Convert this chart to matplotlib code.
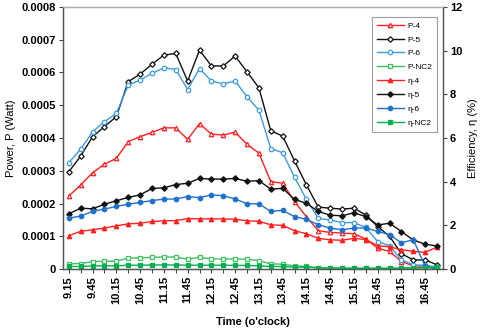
import matplotlib.pyplot as plt
import numpy as np

plt.rcParams['font.family'] = ['Liberation Sans', 'DejaVu Sans']

# hora de cada leitura (a cada 15 min)
times = ['9.15', '9.30', '9.45', '10.00', '10.15', '10.30', '10.45', '11.00',
         '11.15', '11.30', '11.45', '12.00', '12.15', '12.30', '12.45', '13.00',
         '13.15', '13.30', '13.45', '14.00', '14.15', '14.30', '14.45', '15.00',
         '15.15', '15.30', '15.45', '16.00', '16.15', '16.30', '16.45', '17.00']

# potencia (W)
p4 = [0.000223, 0.000257, 0.000294, 0.000320, 0.000338, 0.000389, 0.000404, 0.000417,
      0.000431, 0.000431, 0.000396, 0.000444, 0.000412, 0.000409, 0.000418, 0.000381,
      0.000354, 0.000267, 0.000262, 0.000206, 0.000160, 0.000117, 0.000112, 0.000110,
      0.000108, 0.000092, 0.000064, 0.000054, 0.000023, 0.000010, 0.000009, 0.000006]
p5 = [0.000297, 0.000345, 0.000404, 0.000435, 0.000465, 0.000572, 0.000595, 0.000625,
      0.000653, 0.000658, 0.000574, 0.000668, 0.000620, 0.000620, 0.000650, 0.000602,
      0.000553, 0.000422, 0.000406, 0.000330, 0.000257, 0.000189, 0.000186, 0.000183,
      0.000186, 0.000165, 0.000130, 0.000100, 0.000047, 0.000028, 0.000028, 0.000013]
p6 = [0.000325, 0.000366, 0.000419, 0.000450, 0.000475, 0.000561, 0.000577, 0.000597,
      0.000614, 0.000609, 0.000548, 0.000612, 0.000574, 0.000565, 0.000574, 0.000526,
      0.000485, 0.000368, 0.000355, 0.000280, 0.000213, 0.000155, 0.000150, 0.000142,
      0.000142, 0.000127, 0.000084, 0.000071, 0.000028, 0.000013, 0.000012, 0.000006]
pnc2 = [0.000016, 0.000017, 0.000023, 0.000024, 0.000024, 0.000034, 0.000034, 0.000036,
        0.000037, 0.000037, 0.000030, 0.000036, 0.000031, 0.000031, 0.000031, 0.000030,
        0.000026, 0.000016, 0.000015, 0.000010, 0.000008, 0.000004, 0.000003, 0.000003,
        0.000002, 0.000002, 0.000002, 0.000002, 0.000002, 0.000003, 0.000004, 0.000005]

# eficiencia (%)
e4 = [1.53, 1.73, 1.80, 1.88, 1.98, 2.07, 2.10, 2.18, 2.21, 2.22, 2.31, 2.30, 2.30, 2.30,
      2.28, 2.21, 2.19, 2.03, 2.00, 1.76, 1.62, 1.41, 1.34, 1.32, 1.41, 1.35, 1.07, 1.02,
      0.89, 0.81, 0.77, 1.01]
e5 = [2.53, 2.79, 2.76, 2.97, 3.13, 3.28, 3.40, 3.69, 3.72, 3.87, 3.93, 4.15, 4.12, 4.12,
      4.15, 4.02, 4.05, 3.66, 3.70, 3.19, 3.01, 2.64, 2.47, 2.44, 2.58, 2.40, 2.02, 2.10,
      1.72, 1.33, 1.14, 1.06]
e6 = [2.33, 2.43, 2.64, 2.75, 2.87, 2.97, 3.05, 3.14, 3.20, 3.21, 3.32, 3.27, 3.40, 3.36,
      3.21, 2.99, 2.99, 2.64, 2.69, 2.40, 2.28, 2.03, 1.88, 1.80, 1.88, 1.88, 1.73, 1.58,
      1.20, 1.35, 0.12, 0.00]
enc2 = [0.12, 0.12, 0.15, 0.15, 0.15, 0.18, 0.18, 0.19, 0.19, 0.19, 0.18, 0.18, 0.18, 0.18,
        0.17, 0.17, 0.15, 0.12, 0.12, 0.09, 0.09, 0.06, 0.05, 0.04, 0.04, 0.04, 0.04, 0.04,
        0.05, 0.06, 0.07, 0.09]

x = np.arange(len(times))

fig = plt.figure(figsize=(4.8, 3.29), dpi=100)
ax = fig.add_axes([0.131, 0.182, 0.792, 0.797])
ax2 = ax.twinx()

red, black, blue, blue2 = '#ff2020', '#111111', '#3d9be0', '#1f72cc'
green, green2 = '#40c060', '#00b04f'
kw = dict(lw=1, ms=3.2, mew=0.9)

h = []
h += ax.plot(x, p4, '-^', color=red, mfc='white', label='P-4', **kw)
h += ax.plot(x, p5, '-D', color=black, mfc='white', label='P-5', ms=2.8, lw=1, mew=0.9)
h += ax.plot(x, p6, '-o', color=blue, mfc='white', label='P-6', **kw)
h += ax.plot(x, pnc2, '-s', color=green, mfc='white', label='P-NC2', **kw)
h += ax2.plot(x, e4, '-^', color=red, label='η-4', **kw)
h += ax2.plot(x, e5, '-D', color=black, label='η-5', ms=2.8, lw=1, mew=0.9)
h += ax2.plot(x, e6, '-o', color=blue2, label='η-6', **kw)
h += ax2.plot(x, enc2, '-s', color=green2, label='η-NC2', **kw)

ax.set_xlim(-0.5, len(times) - 0.5)
ax.set_ylim(0, 0.0008)
ax.set_yticks(np.arange(0, 0.00081, 0.0001))
ax.set_yticklabels(['0'] + ['%.4f' % v for v in np.arange(0.0001, 0.00081, 0.0001)])
ax2.set_ylim(0, 12)
ax2.set_yticks(range(0, 13, 2))

ax.set_xticks(x)
ax.set_xticklabels([t if i % 2 == 0 else '' for i, t in enumerate(times)], rotation=90)

for a in (ax, ax2):
    a.tick_params(labelsize=8, length=3, width=0.8, color='#444444', pad=2)
    for lab in a.get_xticklabels() + a.get_yticklabels():
        lab.set_fontweight('bold')
    for s in a.spines.values():
        s.set_color('#555555')
        s.set_linewidth(0.9)
    a.spines['top'].set_color('#aaaaaa')

ax.set_ylabel('Power, P (Watt)', fontsize=8)
ax2.set_ylabel('Efficiency, η (%)', fontsize=8)
ax.set_xlabel("Time (o'clock)", fontsize=8, fontweight='bold', labelpad=9)

leg = ax2.legend(handles=h, loc='upper right', bbox_to_anchor=(0.995, 0.978), fontsize=6,
                 frameon=True, fancybox=False, edgecolor='#888888', borderpad=0.6,
                 labelspacing=0.72, handlelength=3.2, handletextpad=0.4)
leg.get_frame().set_linewidth(0.8)

plt.savefig('out.png', dpi=100)
